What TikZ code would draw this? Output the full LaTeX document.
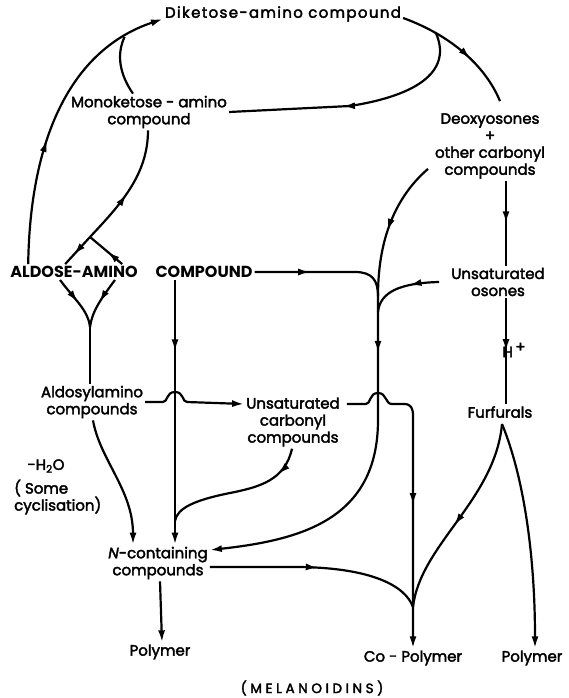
\documentclass[tikz,border=0pt]{standalone}
\usepackage{fontspec}
\setmainfont{Poppins}
\usetikzlibrary{arrows.meta,decorations.markings}
\tikzset{
  lbl/.style    ={align=center,inner sep=2pt,
                  font=\fontsize{15}{17}\selectfont\addfontfeature{FakeBold=2.5}},
  lblcap/.style ={lbl,font=\fontsize{16}{17}\selectfont\bfseries},
  ed/.style     ={draw=black,line width=2.2pt},
  mid/.style    ={postaction={decorate,decoration={markings,
                  mark=at position #1 with {\arrow{>}}}}},
}

\begin{document}
\begin{tikzpicture}[
  >={Latex[length=12pt,width=7pt]},
  x=1pt, y=-1pt,
]
\useasboundingbox (0,0) rectangle (569,698);

%% compounds
\node[lbl]    (dike)    at (283,14)  {\addfontfeature{LetterSpace=9}Diketose-amino compound};
\node[lbl]    (mono)    at (149,112) {Monoketose - amino\\compound};
\node[lbl]    (deoxy)   at (490,146) {Deoxyosones\\+\\other carbonyl\\compounds};
\node[lblcap] (aldA)    at (74,272)  {ALDOSE-AMINO};
\node[lblcap] (aldB)    at (204,272) {COMPOUND};
\node[lbl]    (unos)    at (498,282) {Unsaturated\\osones};
\node[lbl]    (hplus)   at (514,350) {H\,\raisebox{5pt}{+}};
\node[lbl]    (aldosyl) at (92,402)  {Aldosylamino\\compounds};
\node[lbl]    (uncarb)  at (293,422) {Unsaturated\\carbonyl\\compounds};
\node[lbl]    (furf)    at (500,412) {Furfurals};
\node[lbl]    (water)   at (46,466)  {-H\textsubscript{2}O};
\node[lbl,align=left,anchor=west]
              (cycl)    at (12,497)  {( Some\\cyclisation)};
\node[lbl]    (ncont)   at (158,563) {\textit{N}-containing\\compounds};
\node[lbl]    (poly1)   at (160,652) {Polymer};
\node[lbl]    (copoly)  at (413,658) {Co - Polymer};
\node[lbl]    (poly2)   at (532,658) {Polymer};
\node[lbl,font=\fontsize{13.5}{15}\selectfont\addfontfeature{FakeBold=2.5}]
              (melan)   at (312,688) {( M E L A N O I D I N S )};

%% junctions
\coordinate (jAL) at (90,237);
\coordinate (jAD) at (90,327);
\coordinate (jNC) at (175,521);

%% upper loop
\draw[ed,->,mid=0.42] ([xshift=20pt]aldA.north west)
  .. controls (30,140) and (70,50) .. coordinate[pos=0.85] (jMK)
  ([yshift=-5pt]dike.west);
\draw[ed] ([xshift=-16pt]mono.north) .. controls (120,75) and (116,55) .. (jMK);
\draw[ed,mid=0.45] (jAL) .. controls (120,205) and (148,175) .. ([xshift=-1pt]mono.south);
\draw[ed,mid=0.65] (jAL) -- ([xshift=57pt]aldA.north west);
\draw[ed,mid=0.45] ([xshift=114pt]aldA.north west) -- (jAL);
\draw[ed,mid=0.6] ([yshift=-4pt]dike.east)
  .. controls (450,35) and (485,65) .. coordinate[pos=0.25] (jDK)
  ([xshift=10pt,yshift=10pt]deoxy.north);
\draw[ed,mid=0.55] (jDK) .. controls (452,70) and (420,95) .. (350,106) -- (mono.east);

%% carbonyl route
\draw[ed,->,mid=75pt,mid=198pt] ([xshift=-62pt,yshift=12pt]deoxy.south)
  .. controls (392,200) and (378,245) .. (378,296) coordinate (jC1)
  -- (378,312) coordinate (jC2) -- (378,420)
  .. controls (378,520) and (300,540) .. ([yshift=13pt]ncont.east);
\draw[ed,mid=0.4] (aldB.east) -- (355,272) .. controls (372,272) and (378,280) .. (jC1);
\draw[ed,mid=0.4] ([xshift=-10pt]unos.west) .. controls (400,283) and (380,292) .. (jC2);
\draw[ed,mid=0.5] ([xshift=16pt]deoxy.south) -- ([xshift=8pt]unos.north);
\draw[ed,mid=0.5] ([xshift=8pt]unos.south) -- ([xshift=6pt]furf.north);

%% aldosylamino route
\draw[ed,mid=0.5] ([xshift=-14pt]aldA.south) .. controls (75,300) and (88,310) .. (jAD);
\draw[ed,mid=0.5] ([xshift=41pt]aldA.south) .. controls (100,300) and (92,312) .. (jAD);
\draw[ed] (jAD) -- (aldosyl.north -| jAD);
\draw[ed,->] (aldosyl.east) -- (163,402)
  .. controls (168,402) and (166,392) .. (175,392)
  .. controls (184,392) and (182,402) .. (187,402)
  -- ([yshift=18pt]uncarb.west);
\draw[ed,->,mid=0.27] (aldB.south -| jNC) -- (ncont.north -| jNC);
\draw[ed,mid=0.2] ([xshift=-1pt]uncarb.south) .. controls (285,480) and (260,487) .. (230,493)
  .. controls (195,500) and (177,508) .. (jNC);
\draw[ed,->] ([xshift=1pt]aldosyl.south) .. controls (100,460) and (133,490) .. ([xshift=-25pt]ncont.north);

%% to the polymers
\draw[ed,->,mid=174pt] ([xshift=5pt,yshift=18pt]uncarb.east) -- (366,404)
  .. controls (371,404) and (369,393) .. (378,393)
  .. controls (387,393) and (385,404) .. (392,404)
  -- (404,404) .. controls (411,404) and (413,408) .. (413,416)
  -- (413,607) coordinate (jCP) -- (copoly.north);
\draw[ed,mid=0.5] ([yshift=-4pt]ncont.east) -- (300,567) .. controls (370,568) and (405,585) .. (jCP);
\coordinate (jFF) at ([xshift=2pt,yshift=-4pt]furf.south);
\draw[ed,mid=0.55] (jFF) .. controls (495,500) and (420,545) .. (jCP);
\draw[ed,->] (jFF) .. controls (525,480) and (535,560) .. ([xshift=3pt]poly2.north);
\draw[ed,->] ([xshift=2pt]ncont.south) -- ([xshift=2pt]poly1.north);

\end{tikzpicture}
\end{document}
